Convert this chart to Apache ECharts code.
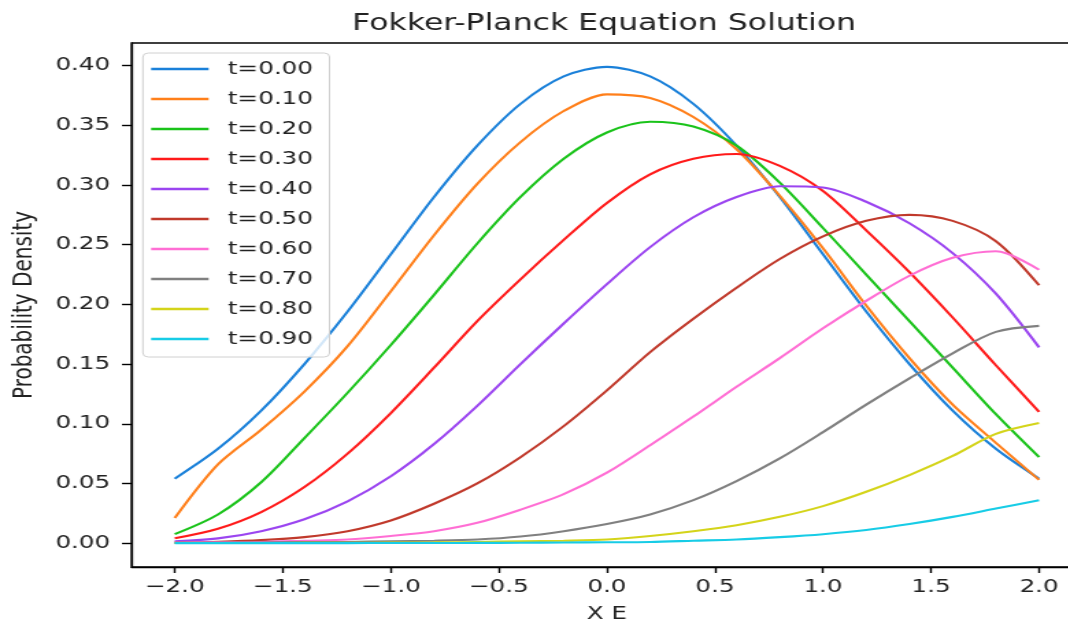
<!DOCTYPE html>
<html>
<head>
<meta charset="utf-8">
<script src="https://cdn.jsdelivr.net/npm/echarts@6/dist/echarts.min.js"></script>
<style>
html,body{margin:0;padding:0;background:#fff;overflow:hidden;width:1068px;height:628px;}
#c{width:800px;height:628px;transform:scaleX(1.37);transform-origin:0 0;}
</style>
</head>
<body>
<div id="c"></div>
<script>
// x grid (E values)
const xs = [-2.0,-1.8,-1.6,-1.4,-1.2,-1.0,-0.8,-0.6,-0.4,-0.2,0.0,0.2,0.4,0.6,0.8,1.0,1.2,1.4,1.6,1.8,2.0];
const seriesNames = ['t=0.00','t=0.10','t=0.20','t=0.30','t=0.40','t=0.50','t=0.60','t=0.70','t=0.80','t=0.90'];
const t00 = [0.054,0.079,0.111,0.150,0.194,0.242,0.290,0.333,0.368,0.391,0.399,0.391,0.368,0.333,0.290,0.242,0.194,0.150,0.111,0.079,0.054];
const t10 = [0.021,0.066,0.095,0.127,0.165,0.211,0.258,0.301,0.336,0.362,0.376,0.373,0.357,0.330,0.291,0.247,0.199,0.155,0.116,0.084,0.053];
const t20 = [0.0075,0.024,0.051,0.088,0.126,0.166,0.208,0.251,0.290,0.322,0.344,0.353,0.349,0.333,0.302,0.264,0.225,0.186,0.147,0.108,0.072];
const t30 = [0.004,0.012,0.026,0.047,0.075,0.109,0.147,0.186,0.221,0.254,0.285,0.309,0.322,0.326,0.316,0.295,0.262,0.227,0.189,0.149,0.110];
const t40 = [0.0015,0.004,0.010,0.020,0.035,0.056,0.083,0.115,0.150,0.184,0.217,0.248,0.273,0.290,0.299,0.298,0.286,0.268,0.243,0.209,0.164];
const t50 = [0.0005,0.0012,0.0025,0.005,0.010,0.019,0.033,0.050,0.072,0.098,0.128,0.160,0.188,0.214,0.238,0.257,0.270,0.275,0.270,0.253,0.216];
const t60 = [0.0005,0.0007,0.001,0.002,0.003,0.006,0.010,0.017,0.028,0.041,0.059,0.082,0.106,0.131,0.155,0.180,0.203,0.224,0.239,0.2445,0.229];
const t70 = [0.0002,0.0003,0.0005,0.0008,0.001,0.0015,0.002,0.003,0.0055,0.010,0.016,0.024,0.036,0.052,0.071,0.093,0.116,0.138,0.159,0.177,0.182];
const t80 = [0.0001,0.0001,0.0001,0.0002,0.0003,0.0004,0.0006,0.001,0.0015,0.002,0.003,0.006,0.010,0.015,0.022,0.031,0.043,0.057,0.073,0.0915,0.1006];
const t90 = [0,0,0,0,0,0.0001,0.0001,0.0002,0.0003,0.0005,0.0007,0.001,0.002,0.003,0.005,0.0075,0.011,0.016,0.022,0.029,0.036];
const xTicks = [-2.0,-1.5,-1.0,-0.5,0.0,0.5,1.0,1.5,2.0];
const yTicks = [0.00,0.05,0.10,0.15,0.20,0.25,0.30,0.35,0.40];
const colors = ['#1a80d9','#ff7f1a','#1ac31a','#ff1a1a','#9b45f0','#c0392b','#ff6ed4','#808080','#d4d41a','#17cce6'];

const allSeries = [t00,t10,t20,t30,t40,t50,t60,t70,t80,t90];
const FONT = 'DejaVu Sans';
const chart = echarts.init(document.getElementById('c'), null, {renderer:'canvas'});
chart.setOption({
  animation:false,
  color: colors,
  title:{
    text:'Fokker-Planck Equation Solution',
    left:441, top:13, textAlign:'center', padding:0,
    textStyle:{fontFamily:FONT, fontSize:23, fontWeight:'normal', color:'#222'}
  },
  grid:{left:93.65, right:10, top:43, bottom:58, show:true, borderColor:'#000', borderWidth:1.3, backgroundColor:'transparent'},
  legend:{
    orient:'vertical', left:104.3, top:53,
    data: seriesNames,
    icon:'rect', itemWidth:42, itemHeight:2.5, itemGap:10,
    padding:[6,12,8,6],
    backgroundColor:'rgba(255,255,255,0.8)', borderColor:'#d0d0d0', borderWidth:1, borderRadius:4,
    textStyle:{fontFamily:FONT, fontSize:18, lineHeight:20, color:'#222', padding:[0,0,0,9]}
  },
  xAxis:{
    type:'value', min:-2.2, max:2.2,
    name:'X E', nameLocation:'middle', nameGap:38,
    nameTextStyle:{fontFamily:FONT, fontSize:18, color:'#222'},
    axisLine:{show:true, onZero:false, lineStyle:{color:'#000', width:1.3}},
    axisTick:{show:true, inside:false, length:6, lineStyle:{color:'#000', width:1.4}, customValues:xTicks},
    axisLabel:{fontFamily:FONT, fontSize:18, color:'#222', margin:11, customValues:xTicks,
      formatter:v=>{const s=Math.abs(v).toFixed(1); return v<0?'\u2212'+s:s;}},
    splitLine:{show:false}
  },
  yAxis:{
    type:'value', min:-0.02, max:0.419,
    name:'Probability Density', nameLocation:'middle', nameGap:68,
    nameTextStyle:{fontFamily:FONT, fontSize:20, color:'#222'},
    axisLine:{show:true, onZero:false, lineStyle:{color:'#000', width:1.3}},
    axisTick:{show:true, inside:false, length:7, lineStyle:{color:'#000', width:1.4}, customValues:yTicks},
    axisLabel:{fontFamily:FONT, fontSize:18, color:'#222', margin:15.5, customValues:yTicks,
      formatter:v=>v.toFixed(2)},
    splitLine:{show:false}
  },
  series: allSeries.map((arr,i)=>({
    name: seriesNames[i], type:'line', showSymbol:false, smooth:0.3,
    lineStyle:{width:2.1, color:colors[i]},
    itemStyle:{color:colors[i]},
    data: arr.map((v,j)=>[xs[j], v])
  }))
});
</script>
</body>
</html>
